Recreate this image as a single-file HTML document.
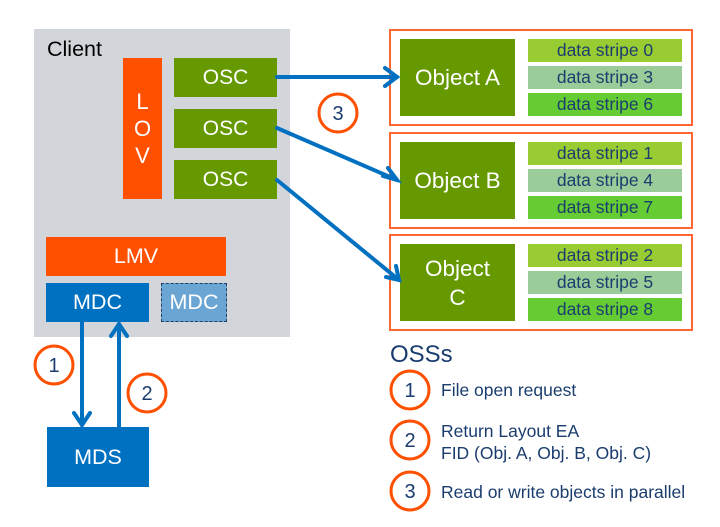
<!DOCTYPE html>
<html><head><style>
body{margin:0;width:720px;height:527px;background:#fff;position:relative;overflow:hidden;font-family:"Liberation Sans",sans-serif}
.a{position:absolute;box-sizing:border-box;display:flex;align-items:center;justify-content:center;text-align:center}
.w{color:#fff}
.osc{background:#669900;font-size:21px}
.st{font-size:17.5px;color:#1a3d6e}
.s1{background:#99cc33}.s2{background:#99cc99}.s3{background:#66cc33}
.ob{border:2px solid #ff6633}
.obj{background:#669900;font-size:22.5px;line-height:29px}
.t{position:absolute;color:#1a3d6e;font-size:17.5px;line-height:22px;white-space:nowrap}
</style></head><body>
<div class="a" style="left:34px;top:29px;width:256px;height:308px;background:#d2d6db"></div>
<div class="t" style="left:47px;top:37px;font-size:21.5px;line-height:24px;color:#000">Client</div>
<div class="a w" style="left:123px;top:58px;width:39px;height:141px;background:#ff5000;font-size:22px;line-height:27px">L<br>O<br>V</div>
<div class="a w osc" style="left:174px;top:58px;width:103px;height:39px">OSC</div>
<div class="a w osc" style="left:174px;top:109px;width:103px;height:39px">OSC</div>
<div class="a w osc" style="left:174px;top:160px;width:103px;height:39px">OSC</div>
<div class="a w" style="left:46px;top:237px;width:180px;height:39px;background:#ff5000;font-size:21.5px">LMV</div>
<div class="a w" style="left:46px;top:283px;width:103px;height:39px;background:#0070c0;font-size:21.5px">MDC</div>
<div class="a w" style="left:161px;top:283px;width:66px;height:39px;background:#6aa5d4;border:1.5px dashed #1f3f66;font-size:21.5px">MDC</div>
<div class="a w" style="left:47px;top:427px;width:102px;height:60px;background:#0070c0;font-size:21.5px">MDS</div>

<div class="a ob" style="left:389px;top:29px;width:304px;height:97px"></div>
<div class="a ob" style="left:389px;top:132px;width:304px;height:97px"></div>
<div class="a ob" style="left:389px;top:234px;width:304px;height:97px"></div>
<div class="a w obj" style="left:400px;top:39px;width:115px;height:77px">Object A</div>
<div class="a w obj" style="left:400px;top:142px;width:115px;height:77px">Object B</div>
<div class="a w obj" style="left:400px;top:244px;width:115px;height:77px">Object<br>C</div>
<div class="a st s1" style="left:528px;top:39px;width:154px;height:23px">data stripe 0</div>
<div class="a st s2" style="left:528px;top:66px;width:154px;height:23px">data stripe 3</div>
<div class="a st s3" style="left:528px;top:93px;width:154px;height:23px">data stripe 6</div>
<div class="a st s1" style="left:528px;top:142px;width:154px;height:23px">data stripe 1</div>
<div class="a st s2" style="left:528px;top:169px;width:154px;height:23px">data stripe 4</div>
<div class="a st s3" style="left:528px;top:196px;width:154px;height:23px">data stripe 7</div>
<div class="a st s1" style="left:528px;top:244px;width:154px;height:23px">data stripe 2</div>
<div class="a st s2" style="left:528px;top:271px;width:154px;height:23px">data stripe 5</div>
<div class="a st s3" style="left:528px;top:298px;width:154px;height:23px">data stripe 8</div>

<svg width="720" height="527" style="position:absolute;left:0;top:0">
<g stroke="#0070c0" stroke-width="4" fill="none" stroke-linecap="round">
<line x1="277" y1="77" x2="397" y2="77"/><polyline points="385,68 397,77 385,86"/>
<line x1="277" y1="128" x2="397" y2="180"/><polyline points="383,176 397,180 388,168"/>
<line x1="277" y1="180" x2="399" y2="280"/><polyline points="386,277 399,280 396,266"/>
<line x1="82" y1="322" x2="82" y2="425"/><polyline points="74,413 82,425 90,413"/>
<line x1="119" y1="427" x2="119" y2="324"/><polyline points="111,336 119,324 127,336"/>
</g>
<g stroke="#ff5000" stroke-width="3" fill="#fff">
<ellipse cx="338" cy="113" rx="19" ry="19"/>
<ellipse cx="54" cy="365" rx="19" ry="19"/>
<ellipse cx="147" cy="393" rx="19" ry="19"/>
<ellipse cx="410" cy="390" rx="19" ry="19"/>
<ellipse cx="410" cy="440" rx="19" ry="19"/>
<ellipse cx="410" cy="491" rx="19" ry="19"/>
</g>
<g fill="#1a3d6e" font-family="Liberation Sans, sans-serif" font-size="20" text-anchor="middle">
<text x="338" y="120">3</text><text x="54" y="372">1</text><text x="147" y="400">2</text>
<text x="410" y="397">1</text><text x="410" y="447">2</text><text x="410" y="498">3</text>
</g>
</svg>
<div class="t" style="left:390px;top:341px;font-size:24px;line-height:28px">OSSs</div>
<div class="t" style="left:441px;top:379px">File open request</div>
<div class="t" style="left:441px;top:420px">Return Layout EA<br>FID (Obj. A, Obj. B, Obj. C)</div>
<div class="t" style="left:441px;top:481px">Read or write objects in parallel</div>
</body></html>
